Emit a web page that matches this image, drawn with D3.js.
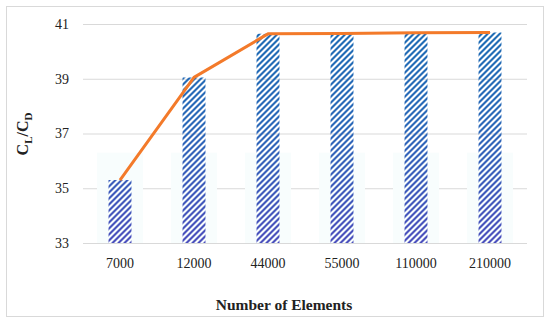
<!DOCTYPE html>
<html>
<head>
<meta charset="utf-8">
<script src="https://cdn.jsdelivr.net/npm/d3@7"></script>
<style>
  body { margin: 0; background: #fff; }
  svg { display: block; }
</style>
</head>
<body>
<div id="chart"></div>
<script>
// chart data
const categories = ["7000", "12000", "44000", "55000", "110000", "210000"];
const ratioValues = [35.3, 39.05, 40.64, 40.65, 40.68, 40.69];
const yTicks = [33, 35, 37, 39, 41];

const width = 550, height = 323;
const margin = { top: 24, right: 23, bottom: 80, left: 83 };
const serif = "'Liberation Serif', 'DejaVu Serif', serif";

const svg = d3.select('#chart').append('svg')
    .attr('width', width)
    .attr('height', height);

// outer frame
svg.append('rect')
    .attr('x', 6.5).attr('y', 6.5)
    .attr('width', 537).attr('height', 310)
    .attr('fill', '#fff')
    .attr('stroke', '#d9d9d9');

// gradient for the hatch strokes: blue at top, indigo at bottom
const defs = svg.append('defs');
const grad = defs.append('linearGradient')
    .attr('id', 'hatchGrad')
    .attr('gradientUnits', 'userSpaceOnUse')
    .attr('x1', 0).attr('y1', 30).attr('x2', 0).attr('y2', 243);
grad.append('stop').attr('offset', '0%').attr('stop-color', '#1f6db5');
grad.append('stop').attr('offset', '45%').attr('stop-color', '#2c69b9');
grad.append('stop').attr('offset', '100%').attr('stop-color', '#4c50bd');

const x = d3.scaleBand()
    .domain(categories)
    .range([margin.left, width - margin.right])
    .paddingInner(0.69)
    .paddingOuter(0.345);

const xCenter = d3.scalePoint()
    .domain(categories)
    .range([margin.left, width - margin.right])
    .padding(0.5);

const y = d3.scaleLinear()
    .domain([33, 41])
    .range([height - margin.bottom, margin.top]);

// gridlines
svg.append('g')
    .selectAll('line')
    .data(yTicks)
    .join('line')
    .attr('x1', margin.left)
    .attr('x2', width - margin.right)
    .attr('y1', d => y(d) + 0.5)
    .attr('y2', d => y(d) + 0.5)
    .attr('stroke', '#d9d9d9')
    .attr('stroke-width', 1);

// y tick labels
svg.append('g')
    .selectAll('text')
    .data(yTicks)
    .join('text')
    .attr('x', 69)
    .attr('y', d => y(d))
    .attr('dy', '0.35em')
    .attr('text-anchor', 'end')
    .style('font-family', serif)
    .style('font-size', '14px')
    .style('fill', '#222')
    .text(d => d);

// very faint background blocks behind the bars
svg.append('g')
    .selectAll('rect')
    .data(categories)
    .join('rect')
    .attr('x', d => xCenter(d) - 23)
    .attr('width', 46)
    .attr('y', y(36.3))
    .attr('height', y(33) - y(36.3))
    .attr('fill', '#f8fdfd');

// hatched bars
const bars = svg.append('g');
categories.forEach((c, i) => {
    const bx = x(c), bw = x.bandwidth();
    const top = y(ratioValues[i]), bottom = y(33);
    const clipId = 'clip' + i;
    defs.append('clipPath').attr('id', clipId)
        .append('rect')
        .attr('x', bx).attr('y', top)
        .attr('width', bw).attr('height', bottom - top);
    const g = bars.append('g').attr('clip-path', `url(#${clipId})`);
    const step = 6;
    const span = bw + 4;
    const lines = d3.range(-Math.ceil(span / step) - 1, Math.ceil((bottom - top) / step) + 2);
    g.selectAll('line')
        .data(lines)
        .join('line')
        .attr('x1', bx - 2)
        .attr('y1', k => bottom - k * step)
        .attr('x2', bx + bw + 2)
        .attr('y2', k => bottom - k * step - span)
        .attr('stroke', 'url(#hatchGrad)')
        .attr('stroke-width', 2.1);
});

// orange line
const line = d3.line()
    .x((d, i) => xCenter(categories[i]))
    .y(d => y(d));

svg.append('path')
    .datum(ratioValues)
    .attr('d', line)
    .attr('fill', 'none')
    .attr('stroke', '#f37a2a')
    .attr('stroke-width', 3)
    .attr('stroke-linejoin', 'round');

// x tick labels
svg.append('g')
    .selectAll('text')
    .data(categories)
    .join('text')
    .attr('x', d => xCenter(d))
    .attr('y', 268)
    .attr('text-anchor', 'middle')
    .style('font-family', serif)
    .style('font-size', '14px')
    .style('fill', '#222')
    .text(d => d);

// x axis title
svg.append('text')
    .attr('x', 284)
    .attr('y', 310)
    .attr('text-anchor', 'middle')
    .style('font-family', serif)
    .style('font-size', '15.5px')
    .style('font-weight', 'bold')
    .style('fill', '#222')
    .text('Number of Elements');

// y axis title C_L/C_D
const yTitle = svg.append('text')
    .attr('transform', 'translate(28,134) rotate(-90)')
    .attr('text-anchor', 'middle')
    .style('font-family', serif)
    .style('font-size', '16px')
    .style('font-weight', 'bold')
    .style('fill', '#222');
yTitle.append('tspan').text('C');
yTitle.append('tspan').attr('dy', 4).style('font-size', '11px').text('L');
yTitle.append('tspan').attr('dy', -4).text('/C');
yTitle.append('tspan').attr('dy', 4).style('font-size', '11px').text('D');
</script>
</body>
</html>
